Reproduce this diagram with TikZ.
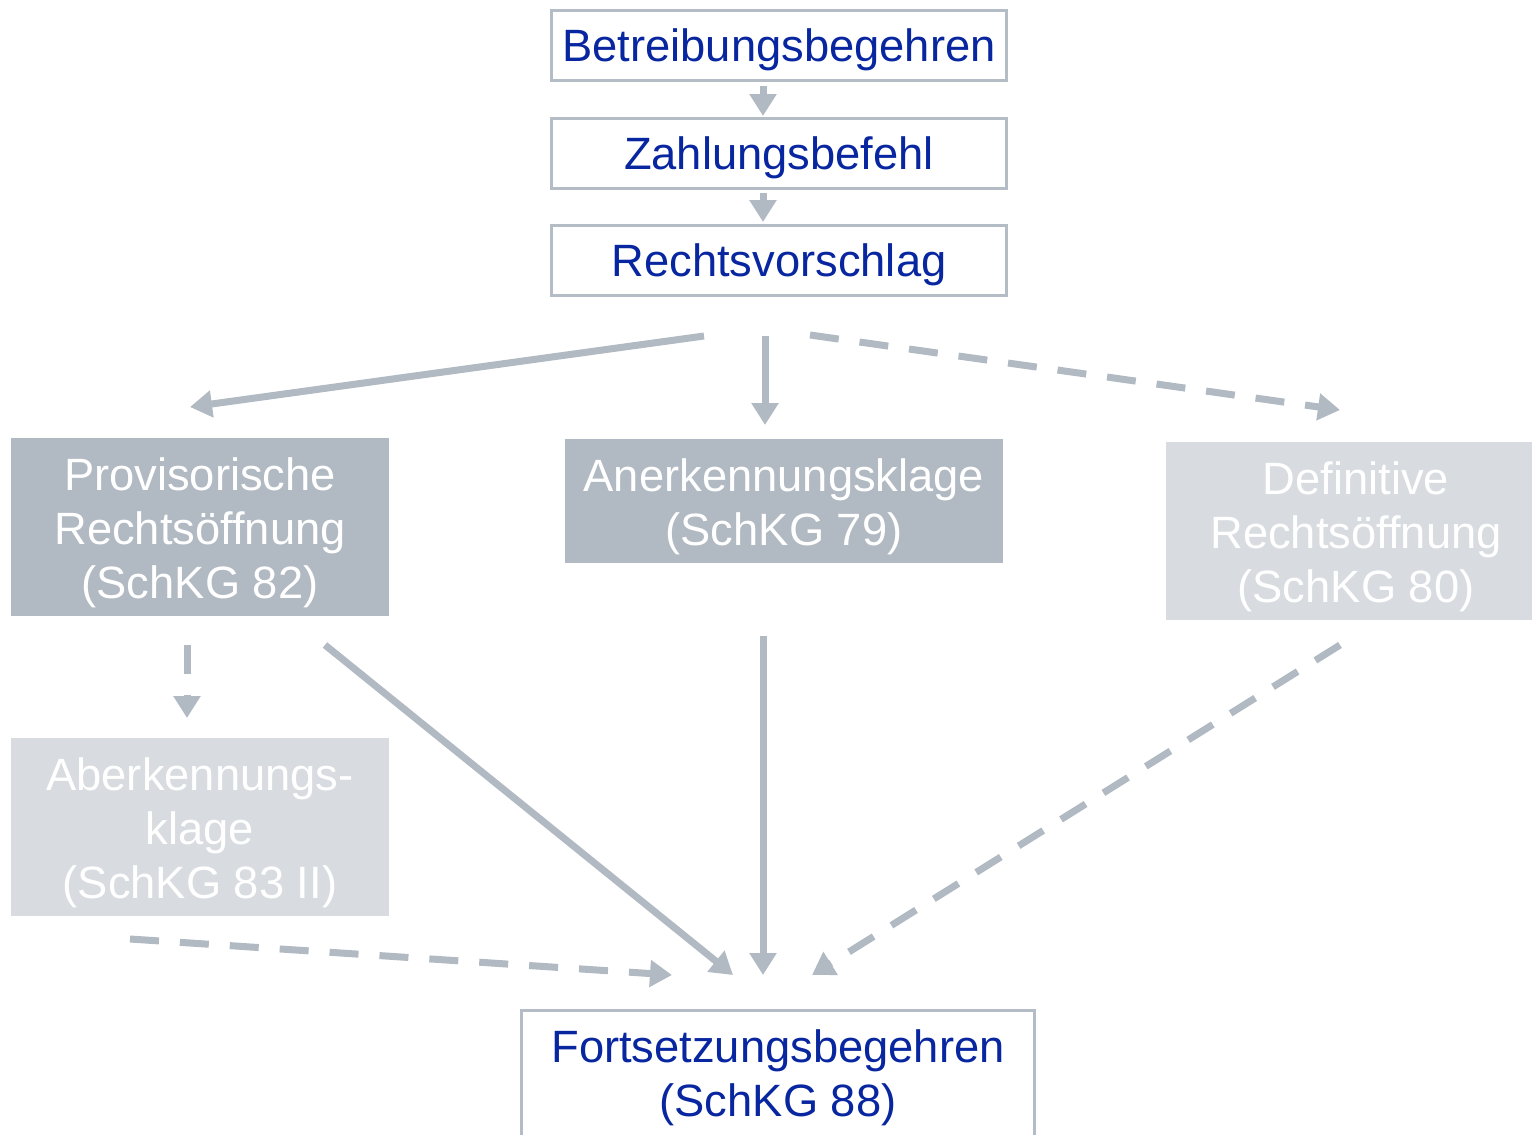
\documentclass[tikz,border=0pt]{standalone}
\usepackage{fontspec}
\setmainfont{Liberation Sans}
\usetikzlibrary{arrows.meta}
\definecolor{navy}{RGB}{8,38,160}
\definecolor{frame}{RGB}{180,188,197}
\definecolor{darkfill}{RGB}{177,185,194}
\definecolor{lightfill}{RGB}{216,220,224}
\newcommand\lowered[2][5pt]{\raisebox{-#1}[\height][\depth]{#2}}
\begin{document}
\begin{tikzpicture}[x=1pt,y=-1pt,
  every node/.style={font=\fontsize{45.3}{54}\selectfont, align=center, inner sep=0pt},
  whitebox/.style={draw=frame, line width=3pt, fill=white, text=navy},
  darkbox/.style={fill=darkfill, text=white},
  lightbox/.style={fill=lightfill, text=white},
  arr/.style={draw=darkfill, line width=7pt, -{Triangle[length=22pt,width=26pt]}},
  darr/.style={arr, dash pattern=on 29pt off 21pt}]
\useasboundingbox (0,0) rectangle (1532,1135);

% nodes
\node[whitebox, minimum width=455pt, minimum height=70pt] (b1) at (779,45.5) {\lowered[4pt]{Betreibungsbegehren}};
\node[whitebox, minimum width=455pt, minimum height=70pt] (b2) at (779,153.5) {\lowered[4pt]{Zahlungsbefehl}};
\node[whitebox, minimum width=455pt, minimum height=70pt] (b3) at (779,260.5) {\lowered[4pt]{Rechtsvorschlag}};
\node[darkbox, minimum width=378pt, minimum height=178pt] (prov) at (200,527) {\lowered[6pt]{Provisorische}\\\lowered[6pt]{Rechtsöffnung}\\\lowered[6pt]{(SchKG 82)}};
\node[darkbox, minimum width=438pt, minimum height=124pt] (anerk) at (784,501) {\lowered[6pt]{Anerkennungsklage}\\\lowered[6pt]{(SchKG 79)}};
\node[lightbox, minimum width=380pt, minimum height=178pt] (def) at (1356,531) {\lowered[6pt]{Definitive}\\\lowered[6pt]{Rechtsöffnung}\\\lowered[6pt]{(SchKG 80)}};
\node[lightbox, minimum width=378pt, minimum height=178pt] (aberk) at (200,827) {\lowered[6pt]{Aberkennungs-}\\\lowered[6pt]{klage}\\\lowered[6pt]{(SchKG 83 II)}};
\node[whitebox, minimum width=513pt, minimum height=129.5pt] (fort) at (778,1075.25) {\lowered[3pt]{Fortsetzungsbegehren}\\\lowered[3pt]{(SchKG 88)}};

% connector end points
\coordinate (b1o) at (763,86);    \coordinate (b2i) at (763,116);
\coordinate (b2o) at (763,193);   \coordinate (b3i) at (763,222);
\coordinate (b3l) at (704,336);   \coordinate (provi) at (190,407);
\coordinate (b3m) at (765,336);   \coordinate (anerki) at (765,425);
\coordinate (b3r) at (810,335);   \coordinate (defi) at (1340,410);
\coordinate (provd) at (187,645); \coordinate (aberki) at (187,718);
\coordinate (provo) at (325,645); \coordinate (forta) at (733,975);
\coordinate (anerko) at (763,636); \coordinate (fortb) at (763,975);
\coordinate (defo) at (1340,645); \coordinate (fortc) at (812,975);
\coordinate (aberko) at (130,939); \coordinate (fortd) at (672,975);

% connectors
\draw[arr] (b1o) -- (b2i);
\draw[arr] (b2o) -- (b3i);
\draw[arr] (b3l) -- (provi);
\draw[arr] (b3m) -- (anerki);
\draw[darr] (b3r) -- (defi);
\draw[darr] (provd) -- (aberki);
\draw[arr] (provo) -- (forta);
\draw[arr] (anerko) -- (fortb);
\draw[darr] (defo) -- (fortc);
\draw[darr] (aberko) -- (fortd);
\end{tikzpicture}
\end{document}
